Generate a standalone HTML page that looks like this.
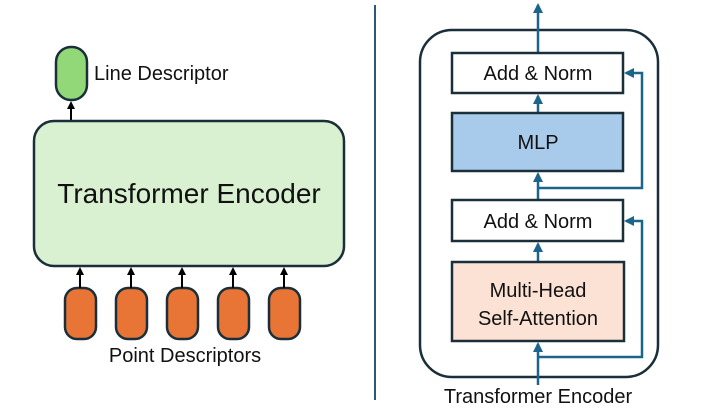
<!DOCTYPE html>
<html><head><style>body{margin:0;background:#fff}svg{display:block}text{font-family:"Liberation Sans",sans-serif;fill:#111}</style></head><body>
<svg width="707" height="409" viewBox="0 0 707 409" xmlns="http://www.w3.org/2000/svg">
<defs>
<marker id="ab" markerWidth="8" markerHeight="8" refX="6" refY="4" orient="auto" markerUnits="userSpaceOnUse"><path d="M0,0 L8,4 L0,8 z" fill="#000"/></marker>
<marker id="at" markerWidth="10" markerHeight="10" refX="8" refY="5" orient="auto" markerUnits="userSpaceOnUse"><path d="M0,0 L10,5 L0,10 z" fill="#1a6589"/></marker>
</defs>
<rect x="56" y="47" width="31" height="53" rx="15" fill="#92d878" stroke="#1a2f3a" stroke-width="2.5"/>
<text x="94" y="80" font-size="20">Line Descriptor</text>
<line x1="71" y1="121" x2="71" y2="103" stroke="#000" stroke-width="2" marker-end="url(#ab)"/>
<rect x="34" y="121" width="310" height="145" rx="20" fill="#d9f1d0" stroke="#1a2f3a" stroke-width="2.5"/>
<text x="189" y="203" font-size="28" text-anchor="middle">Transformer Encoder</text>
<g fill="#e87535" stroke="#1a2f3a" stroke-width="2.5">
<rect x="65" y="288" width="31" height="51" rx="12"/>
<rect x="116" y="288" width="31" height="51" rx="12"/>
<rect x="167" y="288" width="31" height="51" rx="12"/>
<rect x="218" y="288" width="31" height="51" rx="12"/>
<rect x="269" y="288" width="31" height="51" rx="12"/>
</g>
<g stroke="#000" stroke-width="2">
<line x1="80" y1="288" x2="80" y2="269" marker-end="url(#ab)"/>
<line x1="131" y1="288" x2="131" y2="269" marker-end="url(#ab)"/>
<line x1="182" y1="288" x2="182" y2="269" marker-end="url(#ab)"/>
<line x1="233" y1="288" x2="233" y2="269" marker-end="url(#ab)"/>
<line x1="284" y1="288" x2="284" y2="269" marker-end="url(#ab)"/>
</g>
<text x="185" y="362" font-size="20" text-anchor="middle">Point Descriptors</text>
<line x1="375" y1="5" x2="375" y2="400" stroke="#2a5a7a" stroke-width="2"/>
<rect x="420" y="30" width="238" height="347" rx="32" fill="none" stroke="#1a2f3a" stroke-width="2.5"/>
<g stroke="#1a6589" stroke-width="2.5" fill="none">
<line x1="538" y1="53" x2="538" y2="5" marker-end="url(#at)"/>
<line x1="538" y1="113" x2="538" y2="96" marker-end="url(#at)"/>
<line x1="538" y1="200" x2="538" y2="174" marker-end="url(#at)"/>
<line x1="538" y1="262" x2="538" y2="244" marker-end="url(#at)"/>
<line x1="538" y1="385" x2="538" y2="344" marker-end="url(#at)"/>
<polyline points="538,357 642,357 642,221 626,221" marker-end="url(#at)"/>
<polyline points="538,188 642,188 642,73 626,73" marker-end="url(#at)"/>
</g>
<rect x="452" y="53" width="171" height="40" fill="#fff" stroke="#1a2f3a" stroke-width="2.5"/>
<text x="538" y="80" font-size="20" text-anchor="middle">Add &amp; Norm</text>
<rect x="452" y="113" width="171" height="58" fill="#a9cbeb" stroke="#1a2f3a" stroke-width="2.5"/>
<text x="538" y="149" font-size="20" text-anchor="middle">MLP</text>
<rect x="452" y="200" width="171" height="41" fill="#fff" stroke="#1a2f3a" stroke-width="2.5"/>
<text x="538" y="228" font-size="20" text-anchor="middle">Add &amp; Norm</text>
<rect x="452" y="262" width="172" height="79" fill="#fbe2d5" stroke="#1a2f3a" stroke-width="2.5"/>
<text x="538" y="297" font-size="20" text-anchor="middle">Multi-Head</text>
<text x="538" y="325" font-size="20" text-anchor="middle">Self-Attention</text>
<text x="538" y="403" font-size="20" text-anchor="middle">Transformer Encoder</text>
</svg>
</body></html>
